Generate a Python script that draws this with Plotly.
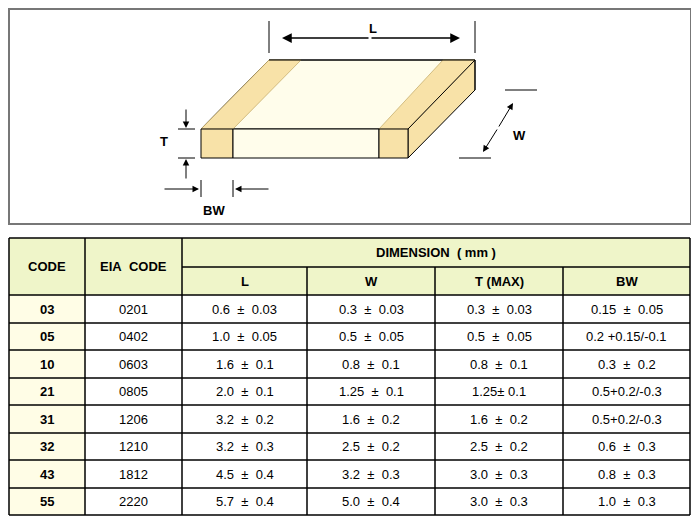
import plotly.graph_objects as go

codes = ["03", "05", "10", "21", "31", "32", "43", "55"]
eia_codes = ["0201", "0402", "0603", "0805", "1206", "1210", "1812", "2220"]
dim_L = ["0.6 ± 0.03", "1.0 ± 0.05", "1.6 ± 0.1", "2.0 ± 0.1", "3.2 ± 0.2", "3.2 ± 0.3", "4.5 ± 0.4", "5.7 ± 0.4"]
dim_W = ["0.3 ± 0.03", "0.5 ± 0.05", "0.8 ± 0.1", "1.25 ± 0.1", "1.6 ± 0.2", "2.5 ± 0.2", "3.2 ± 0.3", "5.0 ± 0.4"]
dim_T = ["0.3 ± 0.03", "0.5 ± 0.05", "0.8 ± 0.1", "1.25± 0.1", "1.6 ± 0.2", "2.5 ± 0.2", "3.0 ± 0.3", "3.0 ± 0.3"]
dim_BW = ["0.15 ± 0.05", "0.2 +0.15/-0.1", "0.3 ± 0.2", "0.5+0.2/-0.3", "0.5+0.2/-0.3", "0.6 ± 0.3", "0.8 ± 0.3", "1.0 ± 0.3"]
sub_headers = ["L", "W", "T (MAX)", "BW"]

FONT = "Liberation Sans, Arial, sans-serif"
HDR = "#EFF5C9"
CODEBG = "#FFFDE6"
CAP = "#F8E2A8"
BODY = "#FFFDEB"
OFF = 8  # page body margin

shapes, ann = [], []

def rect(x0, y0, x1, y1, fill="rgba(0,0,0,0)", lc="black", lw=1):
    shapes.append(dict(type="rect", x0=x0, y0=y0, x1=x1, y1=y1, xref="x", yref="y",
                       fillcolor=fill, line=dict(color=lc, width=lw)))

def line(x0, y0, x1, y1, lc="black", lw=1):
    shapes.append(dict(type="line", x0=x0, y0=y0, x1=x1, y1=y1, xref="x", yref="y",
                       line=dict(color=lc, width=lw)))

def poly(pts, fill, lc="black", lw=1):
    p = "M " + " L ".join(f"{x},{y}" for x, y in pts) + " Z"
    shapes.append(dict(type="path", path=p, xref="x", yref="y", fillcolor=fill,
                       line=dict(color=lc, width=lw)))

def text(x, y, t, bold=False, size=13):
    t = t.replace(" ± ", "  ±  ").replace(" ", "&nbsp;")
    ann.append(dict(x=x, y=y, xref="x", yref="y", text=f"<b>{t}</b>" if bold else t,
                    showarrow=False, font=dict(family=FONT, size=size, color="black")))

def arrow(x, y, ax, ay, lw=1):
    ann.append(dict(x=x, y=y, ax=ax, ay=ay, xref="x", yref="y", axref="x", ayref="y",
                    text="", showarrow=True, arrowhead=2, arrowsize=1.3, arrowwidth=lw,
                    arrowcolor="black"))

# Diagram frame
rect(9, 9, 691, 224, lc="#777777", lw=2)

# Component
poly([(201, 129), (269, 60), (475, 60), (408, 129)], BODY)
poly([(201, 129), (269, 60), (301, 60), (233, 129)], CAP, lc="#c8b070", lw=0.8)
poly([(379, 129), (443, 60), (475, 60), (408, 129)], CAP, lc="#c8b070", lw=0.8)
poly([(408, 129), (475, 60), (475, 90), (408, 158)], CAP)
rect(201, 129, 233, 158, fill=CAP)
rect(233, 129, 379, 158, fill=BODY)
rect(379, 129, 408, 158, fill=CAP)
line(269, 60, 475, 60)
line(475, 60, 475, 90)

# L
line(269, 21, 269, 53); line(475, 21, 475, 53)
arrow(282, 38, 370, 38, 1.5); arrow(460, 38, 370, 38, 1.5)
text(373, 28, "L", bold=True)
# W
line(505, 90, 537, 90); line(459, 158, 491, 158)
arrow(513, 103, 498, 128); arrow(483, 152, 498, 128)
text(519, 135, "W", bold=True)
# T
line(178, 129, 195, 129); line(178, 158, 195, 158)
arrow(186, 128, 186, 108); arrow(186, 159, 186, 180)
text(164, 141, "T", bold=True)
# BW
line(201, 180, 201, 197); line(233, 180, 233, 197)
arrow(199, 189, 163, 189); arrow(235, 189, 270, 189)
text(214, 210, "BW", bold=True)

# Table
cols = [9, 85, 182, 307, 435, 563, 690]
rows = [238, 267, 295, 323, 350, 378, 405, 433, 460, 488, 515]
rect(cols[0], rows[0], cols[-1], rows[2], fill=HDR, lw=0)
rect(cols[0], rows[2], cols[1], rows[-1], fill=CODEBG, lw=0)
for c in cols:
    line(c, rows[0] if c in (cols[0], cols[1], cols[2], cols[-1]) else rows[1], c, rows[-1], lw=1.5)
line(cols[0], rows[0], cols[-1], rows[0], lw=1.5)
line(cols[2], rows[1], cols[-1], rows[1], lw=1.5)
for r in rows[2:]:
    line(cols[0], r, cols[-1], r, lw=1.5)

text((cols[0] + cols[1]) / 2, (rows[0] + rows[2]) / 2, "CODE", bold=True)
text((cols[1] + cols[2]) / 2, (rows[0] + rows[2]) / 2, "EIA  CODE", bold=True)
text((cols[2] + cols[-1]) / 2, (rows[0] + rows[1]) / 2, "DIMENSION  ( mm )", bold=True)
for i, h in enumerate(sub_headers):
    text((cols[2 + i] + cols[3 + i]) / 2, (rows[1] + rows[2]) / 2, h, bold=True)

for i in range(len(codes)):
    yc = (rows[2 + i] + rows[3 + i]) / 2
    vals = [codes[i], eia_codes[i], dim_L[i], dim_W[i], dim_T[i], dim_BW[i]]
    for j, v in enumerate(vals):
        text((cols[j] + cols[j + 1]) / 2, yc, v, bold=(j == 0))

fig = go.Figure()
fig.update_layout(
    width=699, height=522, margin=dict(l=0, r=0, t=0, b=0),
    plot_bgcolor="white", paper_bgcolor="white", showlegend=False,
    xaxis=dict(range=[OFF, 699 + OFF], visible=False, fixedrange=True),
    yaxis=dict(range=[522 + OFF, OFF], visible=False, fixedrange=True),
    shapes=shapes, annotations=ann,
)
fig.write_html("out.html")
